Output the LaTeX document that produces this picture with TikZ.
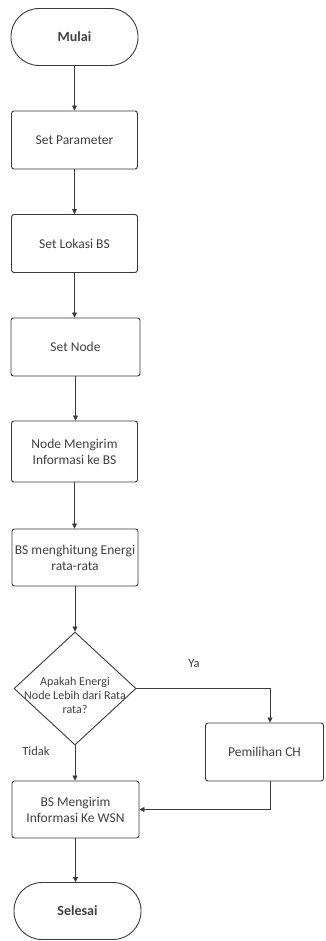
\documentclass[tikz,border=0pt]{standalone}
\usepackage{fontspec}
\setmainfont{Carlito}
\usetikzlibrary{shapes.geometric,arrows.meta,calc}
\definecolor{ink}{HTML}{3A3A3A}
\definecolor{txt}{HTML}{404040}
\begin{document}
\begin{tikzpicture}[x=1pt,y=-1pt,
  every node/.style={text=txt},
  box/.style={draw=ink,line width=0.9pt,rounded corners=2.5pt,minimum width=126pt,minimum height=58pt,inner sep=0pt,align=center,font=\fontsize{13.5}{16}\selectfont},
  term/.style={draw=ink,line width=0.9pt,rounded corners=28pt,minimum width=127pt,minimum height=57pt,inner sep=0pt,font=\fontsize{14}{16}\selectfont\bfseries},
  dia/.style={draw=ink,line width=0.9pt,diamond,minimum width=122pt,minimum height=113pt,inner sep=0pt},
  lab/.style={font=\fontsize{12.5}{14}\selectfont,inner sep=0pt},
  arr/.style={draw=ink,line width=0.8pt,-{Triangle[length=5pt,width=5pt]}}
]
\useasboundingbox (0,0) rectangle (325,941);
\node[term] (start) at (74.5,37) {Mulai};
\node[box] (p1) at (74.5,140) {Set Parameter};
\node[box] (p2) at (74.5,243.5) {Set Lokasi BS};
\node[box,minimum width=129pt] (p3) at (75.5,347) {Set Node};
\node[box,minimum height=61pt] (p4) at (74.5,451.5) {Node Mengirim\\Informasi ke BS};
\node[box,minimum height=57pt] (p5) at (75,557.5) {BS menghitung Energi\\rata-rata};
\node[dia] (dec) at (75,688.5) {};
\node[align=center,font=\fontsize{12}{14}\selectfont,inner sep=0pt] (dectext) at (75,695) {Apakah Energi\\Node Lebih dari Rata\\rata?};
\node[box,minimum width=118pt] (ch) at (264.5,752) {Pemilihan CH};
\node[box,minimum width=127pt,minimum height=57pt] (p7) at (75.5,809.5) {BS Mengirim\\Informasi Ke WSN};
\node[term] (end) at (77.5,911) {Selesai};
\node[lab] (ya) at (194,664) {Ya};
\node[lab] (tidak) at (36,751) {Tidak};
\coordinate (yx) at (270,688.5);
\draw[arr] (start.south) -- (start.south |- p1.north);
\draw[arr] (p1.south) -- (p1.south |- p2.north);
\draw[arr] (p2.south) -- (p2.south |- p3.north);
\draw[arr] (p3.south) -- (p3.south |- p4.north);
\draw[arr] (p4.south) -- (p4.south |- p5.north);
\draw[arr] (p5.south) -- (p5.south |- dec.north);
\draw[arr] (dec.east) -- (yx) -- (yx |- ch.north);
\draw[arr] (dec.south) -- (dec.south |- p7.north);
\draw[arr] (yx |- ch.south) |- (p7.east);
\draw[arr] (p7.south) -- (p7.south |- end.north);
\end{tikzpicture}
\end{document}
